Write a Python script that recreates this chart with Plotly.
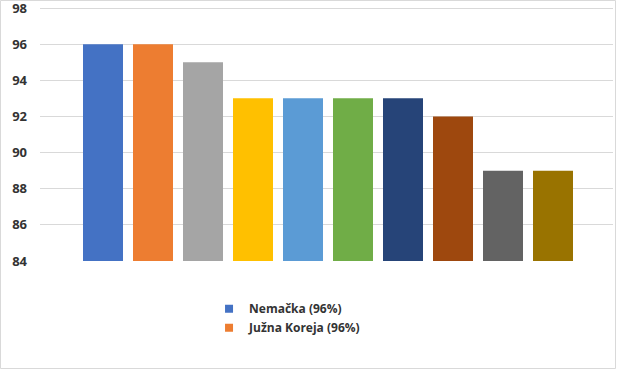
import plotly.graph_objects as go

# Data
series_names = ["Nemačka (96%)", "Južna Koreja (96%)", "Zemlja 3 (95%)", "Zemlja 4 (93%)",
                "Zemlja 5 (93%)", "Zemlja 6 (93%)", "Zemlja 7 (93%)", "Zemlja 8 (92%)",
                "Zemlja 9 (89%)", "Zemlja 10 (89%)"]
series_values = [96, 96, 95, 93, 93, 93, 93, 92, 89, 89]
legend_visible = [True, True, False, False, False, False, False, False, False, False]
colors = ["#4472C4", "#ED7D31", "#A5A5A5", "#FFC000", "#5B9BD5",
          "#70AD47", "#264478", "#9E480E", "#636363", "#997300"]
y_ticks = [84, 86, 88, 90, 92, 94, 96, 98]

W, H = 617, 370
ML, MR, MT, MB = 40, 4, 5, 109
FONT = "Open Sans"

fig = go.Figure()
for name, val, col, show in zip(series_names, series_values, colors, legend_visible):
    fig.add_trace(go.Bar(x=[""], y=[val], name=name, marker=dict(color=col, line=dict(width=0)),
                         showlegend=False))
    if show:
        fig.add_trace(go.Scatter(x=[None], y=[None], mode="markers", name=name,
                                 marker=dict(symbol="square", size=8, color=col)))

fig.update_layout(
    width=W, height=H,
    margin=dict(l=ML, r=MR, t=MT, b=MB, autoexpand=False),
    paper_bgcolor="white", plot_bgcolor="white",
    barmode="group", bargap=0, bargroupgap=0.2,
    font=dict(family=FONT, color="#333333"),
    showlegend=True,
    legend=dict(x=0.295, y=-0.13, xanchor="left", yanchor="top",
                font=dict(family=FONT, size=12, color="#333333", weight="bold"),
                tracegroupgap=0, itemwidth=30, bgcolor="rgba(0,0,0,0)"),
    xaxis=dict(showticklabels=False, showgrid=False, zeroline=False,
               range=[-0.576, 0.57], fixedrange=True),
    yaxis=dict(range=[84, 98.166], tickmode="array", tickvals=y_ticks,
               ticktext=[str(t) for t in y_ticks], ticklabeloverflow="allow",
               showgrid=True, gridcolor="#D9D9D9", gridwidth=1, zeroline=False,
               showline=False, ticks="", ticklabelstandoff=12, fixedrange=True,
               tickfont=dict(family=FONT, size=13, color="#333333", weight="bold")),
)
pw, ph = W - ML - MR, H - MT - MB
fig.add_shape(type="rect", xref="paper", yref="paper",
              x0=(0.5 - ML) / pw, x1=(W - 1.5 - ML) / pw,
              y0=-(MB - 1.5) / ph, y1=1 + (MT - 0.5) / ph,
              line=dict(color="#D9D9D9", width=1), layer="below")
fig.write_html("out.html", config={"displayModeBar": False},
               post_script="document.body.style.margin='0';document.body.style.padding='0';")
